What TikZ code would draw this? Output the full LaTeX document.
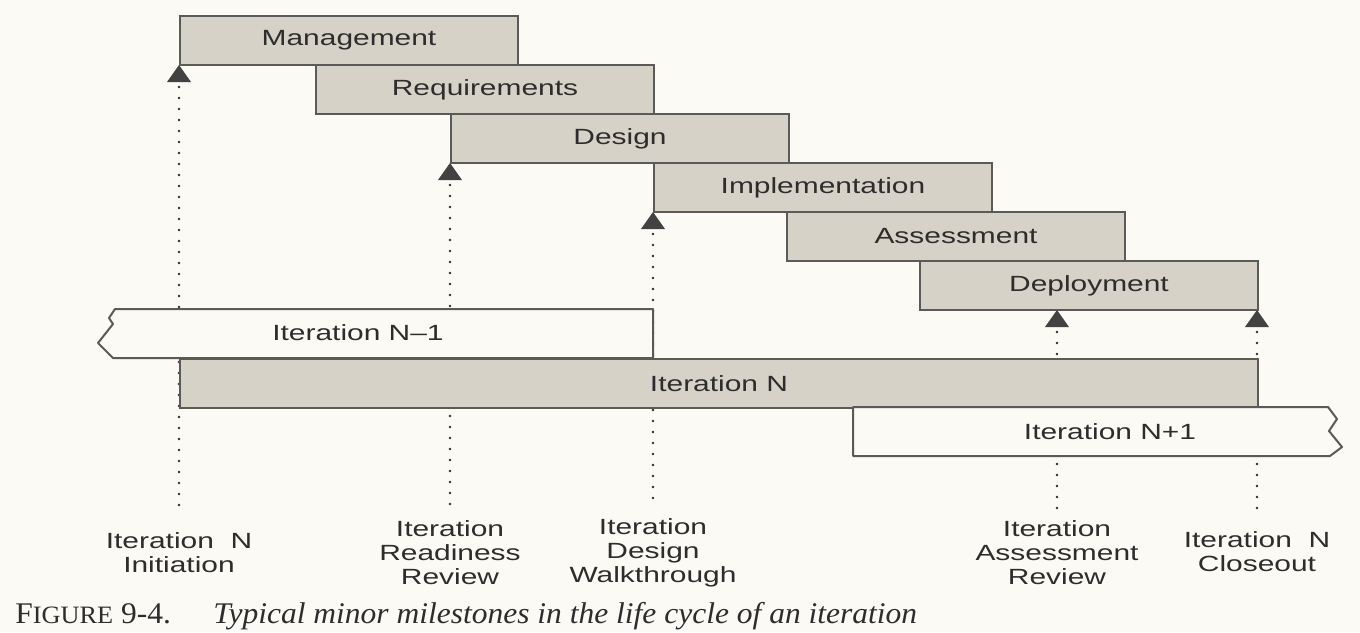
\documentclass[tikz,border=0pt]{standalone}
\usepackage{fontspec}
\setsansfont{Liberation Sans}
\newfontfamily\capfont{Liberation Serif}
\definecolor{paper}{RGB}{251,250,245}
\definecolor{phasefill}{RGB}{214,210,200}
\definecolor{rule}{RGB}{90,90,88}
\definecolor{ink}{RGB}{45,45,45}
\newcommand{\wide}[1]{\scalebox{1.36}[1]{#1}}
\tikzset{
  phase/.style={draw=rule, line width=1pt, fill=phasefill, anchor=north west,
    minimum width=169pt, minimum height=24.5pt, inner sep=0pt, text=ink,
    font=\sffamily\fontsize{11}{12}\selectfont},
  bar/.style={draw=rule, line width=1pt, line join=round, fill=paper},
  bartext/.style={text=ink, xscale=1.36, font=\sffamily\fontsize{11}{12}\selectfont},
  milestone/.style={fill=ink!90},
  trail/.style={draw=ink, line width=1.4pt, line cap=round, dash pattern=on 0pt off 5.5pt},
  mslabel/.style={align=center, text=ink, xscale=1.36,
    font=\sffamily\fontsize{11}{12}\selectfont},
  caption/.style={anchor=base west, inner sep=0pt, text=ink, xscale=1.05,
    font=\capfont\fontsize{15}{16}\selectfont}
}
\begin{document}
\begin{tikzpicture}[x=0.5pt,y=-0.5pt]
\fill[paper] (0,0) rectangle (1360,632);
% milestones and their dotted trails
\foreach \n/\x/\y in {a/179/65, b/450/163, c/653/212, d/1057/310, e/1257/310}{
  \coordinate (m\n) at (\x,\y);
  \coordinate (b\n) at (\x,\y+17);
  \coordinate (e\n) at (\x,508);
  \fill[milestone] (m\n) -- ++(-12,17) -- ++(24,0) -- cycle;
  \draw[trail] (b\n) ++(0,5) -- (e\n);
}
% phases
\foreach \n/\x/\y/\t in {mgmt/179/15/Management, reqs/315/64/Requirements,
  dsgn/450/113/Design, impl/653/162/Implementation,
  asmt/786/211/Assessment, dply/919/260/Deployment}
  \node[phase] (\n) at (\x,\y) {\wide{\t}};
% iterations
\draw[bar] (653,309) -- (115,309) -- (109,318) -- (113,324) -- (98,343) -- (113,358) -- (653,358) -- cycle;
\node[bartext] (itprev) at (358,333) {Iteration N–1};
\node[phase, minimum width=539pt] (itcur) at (179,358) {\wide{Iteration N}};
\draw[bar] (853,407) -- (1328,407) -- (1337,419) -- (1329,431) -- (1342,447) -- (1330,456) -- (853,456) -- cycle;
\node[bartext] (itnext) at (1110,432) {Iteration N+1};
% milestone names
\node[mslabel] (la) at (179,553) {Iteration\ \ N\\Initiation};
\node[mslabel] (lb) at (450,553) {Iteration\\Readiness\\Review};
\node[mslabel] (lc) at (653,553) {Iteration\\Design\\Walkthrough};
\node[mslabel] (ld) at (1057,553) {Iteration\\Assessment\\Review};
\node[mslabel] (le) at (1257,552) {Iteration\ \ N\\Closeout};
% caption
\node[caption] (fignum) at (15,623) {F{\fontsize{12.5}{16}\selectfont IGURE} 9-4.};
\node[caption] (figtext) at (213,623) {\itshape Typical minor milestones in the life cycle of an iteration};
\end{tikzpicture}
\end{document}
